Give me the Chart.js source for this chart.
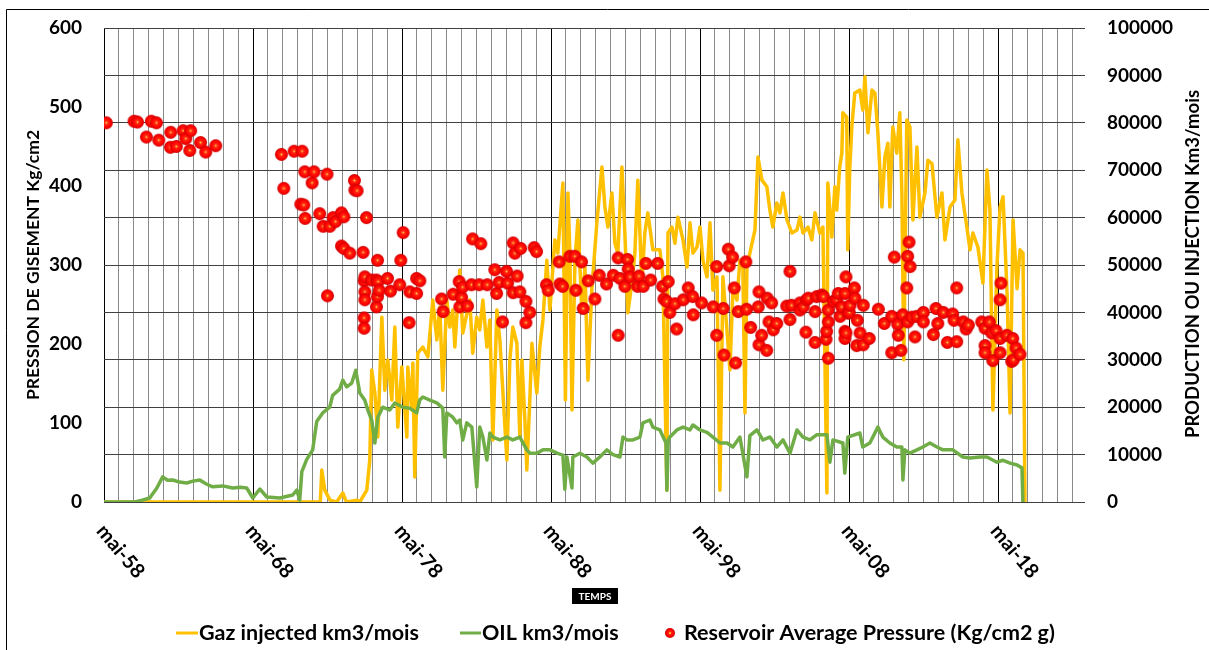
<!DOCTYPE html>
<html>
<head>
<meta charset="utf-8">
<script src="https://cdn.jsdelivr.net/npm/chart.js@4.4.1/dist/chart.umd.min.js"></script>
<style>
  html, body { margin: 0; padding: 0; background: #fff; }
  canvas { display: block; }
</style>
</head>
<body>
<canvas id="chart" width="1209" height="650"></canvas>
<script>
// ============ DATA ============

// time axis: one gridline per year starting mai-58, a label every 10 years
const decadeLabels = ["mai-58", "mai-68", "mai-78", "mai-88", "mai-98", "mai-08", "mai-18"];

// OIL km3/mois (right axis)
const oilYears = [1958.33, 1960.39, 1960.9, 1961.4, 1961.87, 1962.27, 1962.6, 1962.95, 1963.4, 1963.88, 1964.3, 1964.76,
  1965.2, 1965.63, 1966.3, 1966.97, 1967.5, 1967.91, 1968.32, 1968.79, 1969.26, 1970.13, 1971.0, 1971.27, 1971.47,
  1971.61, 1971.94, 1972.34, 1972.61, 1973.01, 1973.48, 1973.68, 1974.15, 1974.36, 1974.62, 1974.96, 1975.23, 1975.5,
  1975.83, 1976.04, 1976.3, 1976.51, 1976.71, 1977.04, 1977.51, 1977.85, 1978.39, 1978.85, 1979.32, 1979.52, 1979.73,
  1980.2, 1980.67, 1981.07, 1981.2, 1981.34, 1981.74, 1982.01, 1982.21, 1982.41, 1982.68, 1983.02, 1983.35, 1983.55,
  1983.76, 1984.03, 1984.23, 1984.43, 1984.9, 1985.37, 1985.77, 1986.24, 1986.71, 1986.91, 1987.38, 1987.79, 1988.26,
  1988.73, 1989.13, 1989.26, 1989.4, 1989.74, 1989.8, 1990.27, 1990.74, 1991.14, 1991.61, 1992.08, 1992.49, 1992.96,
  1993.16, 1993.43, 1993.83, 1994.3, 1994.5, 1994.97, 1995.17, 1995.64, 1996.05, 1996.11, 1996.2, 1996.31, 1996.78,
  1997.19, 1997.66, 1997.86, 1998.33, 1998.8, 1999.2, 1999.67, 2000.14, 2000.54, 2001.01, 2001.48, 2001.68, 2002.15,
  2002.55, 2003.02, 2003.49, 2003.9, 2004.37, 2004.84, 2005.24, 2005.71, 2006.18, 2006.85, 2007.05, 2007.25, 2007.92,
  2008.05, 2008.25, 2009.06, 2009.26, 2009.73, 2010.27, 2010.6, 2011.07, 2011.54, 2011.88, 2011.95, 2012.08, 2012.42,
  2012.89, 2013.29, 2013.76, 2014.23, 2014.63, 2015.3, 2015.97, 2016.45, 2017.12, 2017.59, 2018.26, 2018.67, 2019.14,
  2019.61, 2019.94, 2020.0];
const oilValues = [0, 0, 400, 840, 2900, 5300, 4600, 4640, 4200, 4000, 4400, 4640,
  3800, 3200, 3400, 2950, 3100, 2950, 840, 2740, 1050, 840, 1480, 2530, 420,
  6400, 9000, 11000, 17000, 18800, 20000, 22500, 23800, 25700, 24300, 25100, 27800, 23000,
  21500, 19400, 17300, 12450, 17900, 20000, 19400, 20900, 20000, 19800, 18800, 21500, 22150,
  21500, 20900, 19800, 9500, 18800, 17900, 16700, 17300, 13100, 16700, 15800, 3200, 15800,
  13700, 8860, 14550, 13700, 13100, 13700, 13100, 13700, 11000, 10300, 10300, 11000, 11000,
  10300, 9900, 2700, 9500, 2950, 9500, 10300, 9500, 8200, 9500, 11000, 10000, 9500,
  13700, 13100, 13100, 13700, 16700, 17300, 15800, 15200, 12450, 2500, 13000, 13700, 15200,
  15800, 15200, 16250, 15200, 14700, 13700, 12450, 12450, 11600, 13700, 5300, 14000, 15200,
  13100, 13700, 11600, 13100, 10300, 15200, 13700, 13100, 14200, 14200, 8400, 13100, 12450,
  6100, 13700, 14550, 11600, 12450, 15800, 13700, 12450, 11600, 11600, 4640, 11000, 10300,
  11000, 11600, 12450, 11600, 11000, 11000, 9500, 9300, 9500, 9500, 8400, 8800, 8200,
  7800, 7200, 0];

// Gaz injected km3/mois (right axis)
const gasYears = [1958.33, 1972.85, 1972.95, 1973.15, 1973.5, 1973.95, 1974.36, 1974.6, 1975.3, 1975.5, 1975.97,
  1976.17, 1976.3, 1976.51, 1976.71, 1976.98, 1977.18, 1977.38, 1977.65, 1977.85, 1978.05, 1978.32, 1978.66, 1978.72,
  1978.99, 1979.06, 1979.19, 1979.39, 1979.73, 1980.07, 1980.4, 1980.67, 1980.87, 1981.07, 1981.34, 1981.54, 1981.74,
  1981.88, 1982.21, 1982.41, 1982.88, 1983.08, 1983.35, 1983.55, 1983.76, 1984.03, 1984.23, 1984.43, 1984.7, 1984.9,
  1985.37, 1985.57, 1985.77, 1986.04, 1986.24, 1986.38, 1986.58, 1986.71, 1986.91, 1987.05, 1987.38, 1987.58, 1987.79,
  1988.05, 1988.26, 1988.59, 1988.79, 1989.13, 1989.3, 1989.47, 1989.6, 1989.74, 1989.94, 1990.14, 1990.4, 1990.61,
  1990.81, 1991.07, 1991.41, 1991.75, 1991.95, 1992.15, 1992.42, 1992.62, 1992.82, 1993.09, 1993.29, 1993.49, 1993.76,
  1993.96, 1994.16, 1994.43, 1994.63, 1994.83, 1995.17, 1995.64, 1995.84, 1996.11, 1996.18, 1996.45, 1996.65, 1996.85,
  1997.19, 1997.46, 1997.66, 1997.86, 1998.13, 1998.33, 1998.53, 1998.8, 1999.0, 1999.2, 1999.47, 1999.67, 1999.87,
  2000.14, 2000.34, 2000.54, 2000.81, 2001.01, 2001.21, 2001.35, 2001.48, 2001.68, 2002.02, 2002.22, 2002.49, 2002.82,
  2003.02, 2003.22, 2003.49, 2003.7, 2003.9, 2004.17, 2004.5, 2004.84, 2005.04, 2005.24, 2005.58, 2005.84, 2006.05,
  2006.38, 2006.58, 2006.85, 2006.91, 2007.18, 2007.38, 2007.51, 2007.71, 2007.85, 2007.92, 2008.18, 2008.25, 2008.38,
  2008.52, 2008.72, 2009.06, 2009.26, 2009.4, 2009.6, 2009.87, 2010.07, 2010.27, 2010.54, 2010.74, 2010.94, 2011.07,
  2011.27, 2011.54, 2011.74, 2011.88, 2012.01, 2012.21, 2012.42, 2012.62, 2012.89, 2013.09, 2013.43, 2013.63, 2013.9,
  2014.23, 2014.57, 2014.77, 2015.11, 2015.44, 2015.64, 2015.91, 2016.24, 2016.45, 2016.65, 2016.98, 2017.32, 2017.59,
  2017.79, 2017.99, 2018.26, 2018.47, 2018.67, 2018.94, 2019.14, 2019.34, 2019.61, 2019.81, 2020.01, 2020.14];
const gasValues = [0, 0, 6750, 2500, 400, 0, 1900, 0, 400, 0, 2500,
  8860, 27850, 23000, 13700, 39000, 23600, 29960, 21500, 36900, 15800, 28500, 13700, 28500,
  19400, 29300, 5300, 31400, 32700, 30600, 42600, 34200, 41100, 23600, 42600, 36900, 40500,
  32700, 48950, 35650, 42600, 31400, 39000, 36300, 42600, 32700, 38400, 13100, 40500, 34200,
  8860, 29960, 36900, 33500, 13700, 29960, 17300, 6750, 21500, 33500, 23000, 32700, 38400,
  51000, 40500, 55300, 52500, 67300, 21500, 65200, 52500, 19400, 51000, 59500, 40500, 49600,
  25700, 44700, 58900, 70700, 62250, 58000, 65200, 54600, 52500, 70700, 56750, 39900, 46200,
  52500, 67900, 46200, 56750, 61000, 53200, 53200, 47500, 2500, 56750, 58000, 54600, 60100,
  55300, 49600, 58900, 52500, 53800, 58000, 51000, 47500, 58900, 44700, 47500, 2500, 47500,
  36300, 27850, 44700, 42600, 51000, 49600, 18800, 49600, 52500, 57400, 72800, 67900, 66500,
  61600, 58000, 63100, 61000, 65200, 59500, 56750, 57400, 60100, 56750, 58000, 55300, 61000,
  56750, 58000, 1900, 67300, 55900, 66500, 61600, 70700, 73600, 82100, 81200, 53200, 70050,
  79100, 86300, 86900, 82700, 89700, 77900, 86900, 86300, 77900, 62250, 72800, 75700, 62250,
  79100, 73600, 82100, 65200, 30000, 80600, 79100, 59500, 74900, 60100, 65200, 72100, 71400,
  60100, 65200, 55300, 62250, 63700, 76400, 65200, 58000, 53200, 56750, 53800, 46200, 70050,
  61600, 19400, 49600, 62250, 64400, 44100, 18800, 59500, 45000, 53200, 52500, 0];

// Reservoir Average Pressure (Kg/cm2 g) (left axis)
const pressureYears = [1958.49, 1960.35, 1960.58, 1961.18, 1961.51, 1961.85, 1962.01, 1962.79, 1962.81, 1963.19,
  1963.64, 1963.82, 1964.09, 1964.15, 1964.81, 1965.16, 1965.83,
  1970.24, 1970.4, 1971.09, 1971.54, 1971.63, 1971.74, 1971.81, 1971.83, 1972.3, 1972.43, 1972.81, 1973.04, 1973.3,
  1973.33, 1973.49, 1973.71, 1973.87, 1974.27, 1974.27, 1974.43, 1974.43, 1974.83, 1975.14, 1975.17, 1975.32, 1975.72,
  1975.79, 1975.79, 1975.79, 1975.84, 1975.84, 1975.84, 1975.95, 1976.29, 1976.62, 1976.62, 1976.69, 1976.69, 1976.73,
  1976.8, 1977.36, 1977.56, 1978.18, 1978.25, 1978.41, 1978.81, 1978.86, 1979.31, 1979.31, 1979.53,
  1980.99, 1981.09, 1981.76, 1982.17, 1982.21, 1982.33, 1982.4, 1982.73, 1983.0, 1983.07, 1983.51, 1983.62, 1984.05,
  1984.56, 1984.68, 1984.85, 1985.08, 1985.35, 1985.42, 1985.79, 1985.79, 1985.91, 1986.06, 1986.24, 1986.29, 1986.65,
  1986.65, 1986.91, 1987.2, 1987.36, 1988.03, 1988.14, 1988.88, 1988.93, 1989.11,
  1989.6, 1989.93, 1990.0, 1990.38, 1990.49, 1990.83, 1991.28, 1991.57, 1992.06, 1992.51, 1992.84, 1992.84, 1992.96,
  1993.29, 1993.47, 1993.51, 1993.63, 1994.15, 1994.23, 1994.52, 1994.7, 1995.02, 1995.49, 1995.82, 1995.91, 1996.09,
  1996.2, 1996.31, 1996.65, 1996.76, 1997.21, 1997.54, 1997.84, 1997.88, 1998.44, 1999.22, 1999.45, 1999.45, 1999.89,
  1999.94, 2000.23, 2000.29, 2000.52, 2000.63, 2000.72, 2000.9, 2001.41, 2001.46, 2001.73, 2002.24, 2002.29, 2002.29,
  2002.47, 2002.81, 2002.84, 2002.96, 2003.14, 2003.25, 2003.48, 2004.15, 2004.37, 2004.37, 2004.48, 2005.04, 2005.04,
  2005.26, 2005.44, 2005.49, 2005.6, 2006.05, 2006.05, 2006.16, 2006.5, 2006.61, 2006.79, 2006.83, 2006.94, 2006.94,
  2006.94, 2007.28, 2007.5, 2007.61, 2007.73, 2007.84, 2008.06, 2008.06, 2008.06, 2008.13, 2008.13, 2008.28, 2008.35,
  2008.4, 2008.69, 2008.73, 2008.85, 2008.89, 2009.07, 2009.29, 2009.29, 2009.69, 2010.3, 2010.7, 2011.2, 2011.2,
  2011.37, 2011.6, 2011.64, 2011.82, 2011.94, 2012.21, 2012.27, 2012.27, 2012.36, 2012.43, 2012.54, 2012.76, 2012.88,
  2013.32, 2013.32, 2013.99, 2014.17, 2014.29, 2014.66, 2014.93, 2015.29, 2015.38, 2015.56, 2015.56, 2016.0, 2016.19,
  2016.34, 2017.24, 2017.46, 2017.46, 2017.46, 2017.75, 2017.91, 2017.98, 2018.2, 2018.47, 2018.47, 2018.47, 2018.53,
  2018.92, 2019.25, 2019.32, 2019.36, 2019.54, 2019.81];
const pressureValues = [480, 482, 481, 462, 482, 480, 458, 449, 468, 450,
  470, 460, 445, 470, 455, 443, 451,
  440, 397, 444, 377, 444, 376, 418, 359, 404, 418, 365, 349, 415,
  261, 349, 360, 355, 366, 324, 361, 321, 315, 407, 395, 394, 316,
  280, 233, 220, 266, 256, 285, 360, 281, 281, 247, 306, 260, 279,
  268, 283, 267, 275, 306, 341, 227, 266, 283, 264, 280,
  257, 241, 263, 279, 247, 259, 272, 248, 275, 333, 275, 327, 275,
  294, 264, 278, 228, 292, 277, 328, 265, 315, 286, 266, 321, 254,
  227, 240, 322, 317, 275, 268, 304, 276, 273,
  311, 311, 268, 304, 245, 280, 257, 287, 276, 287, 309, 211, 283,
  273, 307, 295, 285, 273, 286, 273, 302, 281, 302, 273, 257, 254,
  279, 240, 251, 219, 256, 271, 260, 237, 252, 247, 298, 211, 245,
  186, 320, 299, 310, 271, 176, 241, 304, 244, 221, 247, 266, 199,
  211, 192, 258, 228, 252, 218, 226, 248, 292, 231, 249, 252, 243,
  247, 215, 256, 258, 202, 241, 260, 262, 260, 206, 216, 243, 228,
  182, 254, 256, 264, 235, 247, 264, 216, 207, 285, 214, 239, 240,
  249, 271, 258, 198, 230, 214, 249, 199, 207, 244, 226, 235, 189,
  310, 225, 211, 192, 237, 271, 311, 228, 329, 298, 234, 209, 235,
  240, 228, 212, 245, 226, 240, 202, 238, 230, 203, 271, 228, 219,
  224, 228, 220, 198, 189, 228, 214, 179, 217, 207, 189, 256, 277,
  211, 178, 207, 180, 195, 187];

// ============ STYLE ============

const GAS_COLOR = "#FFC000";
const OIL_COLOR = "#70AD47";
const FONT = "Lato, 'Liberation Sans', sans-serif";
const X_MIN = 1958 + 4 / 12;   // mai-58
const X_MAX = 2024.17;

const xTickValues = [];
for (let i = 0; i <= 65; i++) xTickValues.push(X_MIN + i);

function toPoints(xs, ys) {
    return xs.map((x, i) => ({ x: x, y: ys[i] }));
}

// glossy red marker with a small yellow centre
function makeDot(r) {
    const c = document.createElement("canvas");
    const s = Math.ceil(r * 2 + 2);
    c.width = c.height = s;
    const g = c.getContext("2d");
    const m = s / 2;
    const grad = g.createRadialGradient(m, m, 0, m, m, r);
    grad.addColorStop(0, "#ff4020");
    grad.addColorStop(0.7, "#ff0000");
    grad.addColorStop(1, "#c80000");
    g.fillStyle = grad;
    g.beginPath();
    g.arc(m, m, r, 0, Math.PI * 2);
    g.fill();
    g.fillStyle = "#ffd040";
    g.beginPath();
    g.arc(m, m, 1, 0, Math.PI * 2);
    g.fill();
    return c;
}

const dot = makeDot(6.5);
const legendDot = makeDot(5);

// keep the plot box exactly where the reference has it
function fixWidth(w) {
    return s => {
        s.width = w;
        s.paddingTop = 0;
        s.paddingBottom = 0;
    };
}

// ============ DECORATIONS ============

const decorPlugin = {
    id: "decor",
    afterDraw(chart) {
        const ctx = chart.ctx;
        const area = chart.chartArea;
        const xs = chart.scales.x;

        ctx.save();

        // frame
        ctx.strokeStyle = "#000";
        ctx.lineWidth = 1;
        ctx.beginPath();
        ctx.moveTo(6.5, 660);
        ctx.lineTo(6.5, 9.5);
        ctx.lineTo(1209, 9.5);
        ctx.stroke();

        // rotated date labels
        ctx.fillStyle = "#000";
        ctx.font = "bold 20px " + FONT;
        ctx.textAlign = "left";
        ctx.textBaseline = "top";
        decadeLabels.forEach((lab, i) => {
            const px = xs.getPixelForValue(X_MIN + i * 10);
            ctx.save();
            ctx.translate(px + 4, area.bottom + 19);
            ctx.rotate(50 * Math.PI / 180);
            ctx.fillText(lab, 0, 0);
            ctx.restore();
        });

        // axis titles
        ctx.font = "bold 17.5px " + FONT;
        ctx.textAlign = "center";
        ctx.textBaseline = "middle";
        ctx.save();
        ctx.translate(33, 265);
        ctx.rotate(-Math.PI / 2);
        ctx.fillText("PRESSION DE GISEMENT Kg/cm2", 0, 0);
        ctx.restore();

        ctx.font = "bold 18.5px " + FONT;
        ctx.save();
        ctx.translate(1193, 264);
        ctx.rotate(-Math.PI / 2);
        ctx.fillText("PRODUCTION OU INJECTION Km3/mois", 0, 0);
        ctx.restore();

        // TEMPS tag
        ctx.fillStyle = "#000";
        ctx.fillRect(572, 588, 46, 16);
        ctx.fillStyle = "#fff";
        ctx.font = "bold 10px " + FONT;
        ctx.fillText("TEMPS", 595, 596.5);

        // legend
        const ly = 633;
        ctx.font = "bold 21.5px " + FONT;
        ctx.textAlign = "left";
        ctx.fillStyle = "#000";
        ctx.lineWidth = 3;

        ctx.strokeStyle = GAS_COLOR;
        ctx.beginPath();
        ctx.moveTo(176, ly);
        ctx.lineTo(198, ly);
        ctx.stroke();
        ctx.fillText("Gaz injected km3/mois", 199, ly);

        ctx.strokeStyle = OIL_COLOR;
        ctx.beginPath();
        ctx.moveTo(460, ly);
        ctx.lineTo(481, ly);
        ctx.stroke();
        ctx.fillText("OIL km3/mois", 482, ly);

        ctx.drawImage(legendDot, 670 - legendDot.width / 2, ly - legendDot.height / 2);
        ctx.fillText("Reservoir Average Pressure (Kg/cm2 g)", 684, ly);

        ctx.restore();
    }
};

// ============ CHART ============

const chart = new Chart(document.getElementById("chart"), {
    type: "line",
    data: {
        datasets: [
            {
                label: "Reservoir Average Pressure (Kg/cm2 g)",
                data: toPoints(pressureYears, pressureValues),
                yAxisID: "y",
                showLine: false,
                pointStyle: dot,
                pointRadius: 7,
                order: 1
            },
            {
                label: "OIL km3/mois",
                data: toPoints(oilYears, oilValues),
                yAxisID: "y1",
                borderColor: OIL_COLOR,
                borderWidth: 3.5,
                borderJoinStyle: "round",
                pointRadius: 0,
                tension: 0,
                order: 2
            },
            {
                label: "Gaz injected km3/mois",
                data: toPoints(gasYears, gasValues),
                yAxisID: "y1",
                borderColor: GAS_COLOR,
                borderWidth: 3.5,
                borderJoinStyle: "round",
                pointRadius: 0,
                tension: 0,
                order: 3
            }
        ]
    },
    options: {
        responsive: false,
        animation: false,
        layout: { padding: { top: 28, left: 0, right: 0, bottom: 0 } },
        plugins: {
            legend: { display: false },
            tooltip: { enabled: false }
        },
        scales: {
            x: {
                type: "linear",
                min: X_MIN,
                max: X_MAX,
                afterBuildTicks: s => { s.ticks = xTickValues.map(v => ({ value: v })); },
                afterFit: s => { s.height = 148; s.paddingLeft = 0; s.paddingRight = 0; },
                ticks: { display: false },
                grid: {
                    color: c => (c.index % 10 === 0 ? "#000" : "#8a8a8a"),
                    lineWidth: 1,
                    drawTicks: false
                },
                border: { display: false }
            },
            y: {
                position: "left",
                min: 0,
                max: 600,
                afterFit: fixWidth(104),
                ticks: {
                    stepSize: 100,
                    padding: 22,
                    color: "#000",
                    font: { family: FONT, size: 19, weight: "bold" }
                },
                grid: { display: false, drawTicks: false },
                border: { display: false }
            },
            y1: {
                position: "right",
                min: 0,
                max: 100000,
                afterFit: fixWidth(124),
                ticks: {
                    stepSize: 10000,
                    padding: 22,
                    color: "#000",
                    font: { family: FONT, size: 19, weight: "bold" },
                    callback: v => String(v)
                },
                grid: { color: "#404040", lineWidth: 1, drawTicks: false },
                border: { display: false }
            }
        }
    },
    plugins: [decorPlugin]
});
</script>
</body>
</html>
